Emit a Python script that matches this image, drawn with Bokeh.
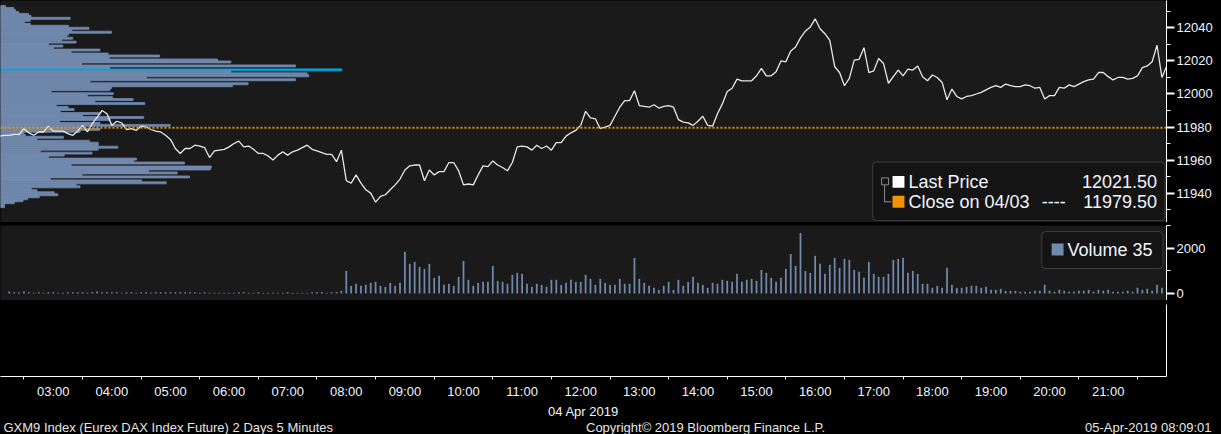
from bokeh.plotting import figure
from bokeh.layouts import column
from bokeh.models import (Range1d, SingleIntervalTicker, FixedTicker, Span,
                          BoxAnnotation, Label, GlobalInlineStyleSheet)
from bokeh.embed import file_html
from bokeh.resources import INLINE

# ---------------- data ----------------
bar_minutes = 5
price_start = "02:05"          # first 5-minute price point
volume_start = "02:15"         # first 5-minute volume bar

last_price = [
    11974.5, 11975.0, 11975.0, 11975.5, 11975.5, 11979.0, 11976.5, 11975.0, 11977.0, 11977.0,
    11980.5, 11977.5, 11977.5, 11977.5, 11976.0, 11975.0, 11977.5, 11981.0, 11977.0, 11982.0,
    11986.0, 11990.0, 11988.0, 11981.0, 11983.5, 11982.5, 11978.5, 11979.0, 11978.0, 11980.5,
    11980.0, 11978.5, 11977.5, 11977.0, 11975.0, 11972.5, 11967.0, 11964.0, 11967.0, 11967.0,
    11969.0, 11968.5, 11967.5, 11961.5, 11965.5, 11966.0, 11966.5, 11968.0, 11970.0, 11971.5,
    11968.0, 11968.5, 11966.5, 11964.0, 11964.0, 11962.5, 11960.0, 11963.0, 11965.0, 11963.0,
    11965.0, 11966.0, 11967.5, 11969.0, 11966.5, 11965.5, 11964.5, 11963.5, 11963.5, 11959.0,
    11966.0, 11947.5, 11946.0, 11951.0, 11946.0, 11942.0, 11940.0, 11934.5, 11938.0, 11939.0,
    11942.0, 11945.0, 11948.5, 11954.0, 11956.5, 11957.0, 11957.0, 11947.5, 11954.0, 11951.0,
    11953.0, 11953.0, 11958.5, 11958.5, 11953.5, 11945.0, 11945.5, 11945.0, 11951.0, 11956.5,
    11956.0, 11959.5, 11957.0, 11955.5, 11953.5, 11958.5, 11968.0, 11968.5, 11968.0, 11966.0,
    11969.0, 11967.0, 11968.5, 11966.0, 11970.5, 11970.5, 11974.5, 11976.5, 11978.0, 11981.0,
    11989.5, 11985.5, 11985.0, 11979.0, 11980.0, 11981.0, 11986.5, 11992.0, 11996.0, 11996.0,
    12002.0, 11993.0, 11992.5, 11992.0, 11993.5, 11991.5, 11992.5, 11993.0, 11992.0, 11984.5,
    11983.0, 11982.5, 11981.0, 11983.5, 11986.5, 11981.0, 11980.5, 11988.0, 11994.0, 12001.5,
    12003.5, 12009.0, 12008.0, 12008.0, 12008.0, 12011.0, 12015.5, 12011.0, 12011.0, 12013.5,
    12020.0, 12019.5, 12026.0, 12028.5, 12034.0, 12038.0, 12040.5, 12045.5, 12039.5, 12036.5,
    12032.5, 12016.5, 12013.0, 12005.0, 12009.5, 12020.5, 12021.0, 12028.0, 12013.0, 12014.0,
    12021.5, 12018.5, 12006.5, 12010.5, 12014.5, 12011.0, 12015.0, 12014.5, 12017.0, 12010.5,
    12008.0, 12011.5, 12010.0, 12007.0, 11996.5, 12003.0, 11998.5, 11997.0, 11998.5, 11999.0,
    12000.0, 12001.0, 12002.5, 12004.0, 12005.0, 12004.0, 12006.0, 12005.0, 12004.5, 12004.5,
    12005.5, 12005.0, 12003.5, 12004.0, 11997.0, 11999.0, 11999.0, 12004.0, 12003.5, 12005.5,
    12004.5, 12006.0, 12007.5, 12008.5, 12009.0, 12013.0, 12013.0, 12010.5, 12008.5, 12010.0,
    12010.0, 12009.0, 12009.5, 12011.0, 12016.0, 12017.0, 12019.5, 12029.5, 12010.0, 12017.0,
]

volume = [
    90, 60, 60, 90, 60, 30, 60, 30, 60, 60,
    30, 30, 60, 60, 60, 60, 30, 60, 90, 60,
    60, 60, 60, 30, 60, 60, 30, 60, 60, 30,
    60, 60, 60, 60, 60, 60, 60, 60, 60, 30,
    60, 30, 30, 30, 30, 30, 30, 60, 60, 30,
    30, 60, 30, 30, 30, 30, 30, 60, 30, 30,
    30, 30, 60, 60, 60, 30, 60, 60, 120,
    1006, 340, 430, 340, 385, 474, 518, 340, 296, 474,
    340, 474, 1850, 1317, 1406, 1184, 1095, 1317, 696, 784,
    385, 430, 340, 740, 1450, 607, 340, 474, 518, 518,
    1228, 562, 518, 430, 829, 918, 873, 430, 296, 430,
    385, 296, 607, 607, 385, 474, 607, 518, 518, 829,
    651, 385, 651, 474, 385, 385, 651, 430, 430, 1584,
    651, 474, 340, 252, 163, 340, 518, 163, 607, 340,
    518, 740, 474, 385, 252, 474, 430, 607, 562, 518,
    873, 518, 607,
    651, 562, 1051, 918, 696, 518, 696, 1095, 1761, 1228,
    2694, 1006, 918, 1672, 1317, 873, 1273, 1584, 1140, 1539,
    1495, 1051, 962, 696, 1406, 873, 740, 740, 873, 1495,
    1539, 1584, 918, 1006, 873, 430, 430, 252, 340, 252,
    1140, 385, 252, 252, 296, 340, 340, 252, 296, 163,
    163, 207, 118, 118, 118, 74, 74, 74, 118, 118,
    385, 118, 74, 163, 118, 74, 74, 118, 118, 163,
    74, 163, 118, 163, 74, 74, 74, 118, 74, 252,
    163, 207, 118, 385, 252,
    35,
]

profile_levels = [
    12053.0, 12051.8, 12050.6, 12049.4, 12048.2, 12047.0, 12045.8, 12044.6, 12043.4, 12042.2,
    12041.0, 12039.8, 12038.6, 12037.4, 12036.2, 12035.0, 12033.8, 12032.6, 12031.4, 12030.2,
    12029.0, 12027.8, 12026.6, 12025.4, 12024.2, 12023.0, 12021.8, 12020.6, 12019.4, 12018.2,
    12017.0, 12015.8, 12014.6, 12013.4, 12012.2, 12011.0, 12009.8, 12008.6, 12007.4, 12006.2,
    12005.0, 12003.8, 12002.6, 12001.4, 12000.2, 11999.0, 11997.8, 11996.6, 11995.4, 11994.2,
    11993.0, 11991.8, 11990.6, 11989.4, 11988.2, 11987.0, 11985.8, 11984.6, 11983.4, 11982.2,
    11981.0, 11979.8, 11978.6, 11977.4, 11976.2, 11975.0, 11973.8, 11972.6, 11971.4, 11970.2,
    11969.0, 11967.8, 11966.6, 11965.4, 11964.2, 11963.0, 11961.8, 11960.6, 11959.4, 11958.2,
    11957.0, 11955.8, 11954.6, 11953.4, 11952.2, 11951.0, 11949.8, 11948.6, 11947.4, 11946.2,
    11945.0, 11943.8, 11942.6, 11941.4, 11940.2, 11939.0, 11937.8, 11936.6, 11935.4, 11934.2,
    11933.0, 11931.8,
]
profile_volume = [
    30, 80, 90, 110, 170, 184, 420, 180, 144, 180,
    410, 534, 430, 670, 410, 400, 436, 370, 456, 290,
    376, 320, 600, 426, 650, 960, 656, 1310, 1390, 490,
    1780, 660, 2060, 1390, 1850, 1860, 880, 1780, 540, 1494,
    1400, 670, 660, 306, 680, 524, 676, 800, 570, 870,
    336, 408, 444, 360, 600, 496, 864, 660, 356, 600,
    1024, 490, 600, 480, 140, 150, 380, 220, 536, 590,
    590, 708, 590, 240, 552, 384, 290, 820, 804, 1110,
    426, 1272, 1266, 894, 1066, 492, 1140, 300, 852, 1000,
    456, 480, 186, 220, 324, 346, 234, 164, 136, 84,
    24, 24,
]
profile_bin = 1.2

prev_close = 11979.50
last_value = 12021.50
last_volume = 35
hour_ticks = [3, 4, 5, 6, 7, 8, 9, 10, 11, 12, 13, 14, 15, 16, 17, 18, 19, 20, 21]
hour_labels = ["03:00", "04:00", "05:00", "06:00", "07:00", "08:00", "09:00", "10:00",
               "11:00", "12:00", "13:00", "14:00", "15:00", "16:00", "17:00", "18:00",
               "19:00", "20:00", "21:00"]
date_label = "04 Apr 2019"
footer_left = "GXM9 Index (Eurex DAX Index Future) 2 Days 5 Minutes"
footer_mid = "Copyright\u00a9 2019 Bloomberg Finance L.P."
footer_right = "05-Apr-2019 08:09:01"

# ---------------- style ----------------
FONT = "Liberation Sans"
BG = "#1a1a1a"
BAR = "#7189ad"
POC = "#00a9e0"
ORANGE = "#f39200"
TXT = "#f2f5ff"
FW, RB = 1166, 47
PH, VH, XH, FH = 222, 75, 72, 14
SX = FW / 1172.5


def hrs(s):
    h, m = s.split(":")
    return int(h) + int(m) / 60.0


step = bar_minutes / 60.0
price_x = [hrs(price_start) + i * step for i in range(len(last_price))]
vol_x = [hrs(volume_start) + i * step for i in range(len(volume))]
xr = Range1d(2.1, 21.995)


def style_y(ax, ticker):
    ax.ticker = ticker
    ax.axis_line_color = "white"
    ax.major_tick_line_color = "white"
    ax.major_tick_line_width = 2
    ax.major_tick_out = 8
    ax.major_tick_in = 0
    ax.minor_tick_line_color = "white"
    ax.minor_tick_out = 4
    ax.minor_tick_in = 0
    ax.major_label_text_color = TXT
    ax.major_label_text_font = FONT
    ax.major_label_text_font_size = "13px"
    ax.major_label_standoff = 2


def box(l, r, b, t, fill, line=None, radius=0):
    return BoxAnnotation(left=l, right=r, bottom=b, top=t, left_units="screen",
                         right_units="screen", bottom_units="screen", top_units="screen",
                         fill_color=fill, fill_alpha=1.0, line_color=line,
                         line_alpha=1.0 if line else 0.0, border_radius=radius, level="overlay")


def label(x, y, text, size="18px", align="left", color=TXT):
    return Label(x=x, y=y, x_units="screen", y_units="screen", text=text,
                 text_font=FONT, text_font_size=size, text_color=color,
                 text_align=align, text_baseline="middle", level="overlay")


def panel(h, yr, bg, right_axis=True, rb=RB, fw=FW, **kw):
    f = figure(frame_width=fw, frame_height=h, x_range=kw.pop("x_range", xr), y_range=yr,
               output_backend="svg", toolbar_location=None,
               x_axis_location=kw.pop("x_axis_location", None),
               y_axis_location="right" if right_axis else None,
               min_border_left=0, min_border_top=0,
               min_border_bottom=kw.pop("min_border_bottom", 0), min_border_right=rb,
               background_fill_color=bg, border_fill_color=kw.pop("border", "black"),
               outline_line_color=None)
    f.grid.visible = False
    return f


# ---------------- price panel ----------------
fp = panel(PH, Range1d(11922.2, 12056.6), BG)
style_y(fp.yaxis[0], SingleIntervalTicker(interval=20, num_minor_ticks=2))
fp.extra_x_ranges = {"prof": Range1d(0, 7035)}
pmax = max(profile_volume)
prof_colors = [POC if v == pmax else BAR for v in profile_volume]
fp.hbar(y=profile_levels, height=profile_bin, left=0, right=profile_volume,
        x_range_name="prof", fill_color=prof_colors, line_color=prof_colors,
        line_width=0.8)
fp.line(price_x, last_price, line_color="#e8e8e8", line_width=1.3)
fp.add_layout(Span(location=prev_close, dimension="width", line_color=ORANGE,
                   line_dash="2 2", line_width=2))


def py(yref):  # reference pixel row (from top) -> frame screen units
    return (224 - yref) * PH / 224.0


fp.add_layout(box(877 * SX, 1171 * SX, py(222), py(163), "#141414", "#3d3d3d", 4))
fp.add_layout(box(886 * SX, 893 * SX, py(186), py(179), None, "#8c8c8c"))
fp.add_layout(box(888.5 * SX, 889.5 * SX, py(203), py(186), "#8c8c8c"))
fp.add_layout(box(888.5 * SX, 896 * SX, py(203.5), py(202.5), "#8c8c8c"))
fp.add_layout(box(897 * SX, 909 * SX, py(189), py(177), "#ffffff"))
fp.add_layout(box(897 * SX, 909 * SX, py(209), py(197), ORANGE))
fp.add_layout(label(913 * SX, py(183), "Last Price"))
fp.add_layout(label(1163 * SX, py(183), f"{last_value:.2f}", align="right"))
fp.add_layout(label(913 * SX, py(203), "Close on 04/03"))
fp.add_layout(label(1047 * SX, py(203), "----"))
fp.add_layout(label(1163 * SX, py(203), f"{prev_close:.2f}", align="right"))


# ---------------- separators ----------------
def separator(h):
    s = panel(h, Range1d(0, 1), "#4d4d4d", right_axis=False, x_range=Range1d(0, 1),
              border="#4d4d4d")
    s.add_layout(box(604 * SX, 617 * SX, 0, h, "#8a8a8a"))
    return s


s1 = separator(3)
s2 = separator(4)

# ---------------- volume panel ----------------
fv = panel(VH, Range1d(-311, 3022), BG)
style_y(fv.yaxis[0], SingleIntervalTicker(interval=2000, num_minor_ticks=2))
fv.vbar(x=vol_x, top=volume, bottom=0, width=step * 0.36, fill_color=BAR, line_color=None)


def vy(yref):
    return (302 - yref) * VH / 75.0


fv.add_layout(box(1047 * SX, 1169 * SX, vy(270), vy(233), "#141414", "#3d3d3d", 4))
fv.add_layout(box(1057 * SX, 1069 * SX, vy(257), vy(245), BAR))
fv.add_layout(label(1073 * SX, vy(251), f"Volume {last_volume}"))

# ---------------- bottom (time axis) panel ----------------
fx = panel(XH, Range1d(0, 1), "black", x_axis_location="below", min_border_bottom=36)
ya = fx.yaxis[0]
ya.ticker = FixedTicker(ticks=[])
ya.axis_line_color = "white"
ya.major_tick_line_color = None
ya.minor_tick_line_color = None
xa = fx.xaxis[0]
xa.ticker = FixedTicker(ticks=hour_ticks, minor_ticks=[h - 0.5 for h in hour_ticks] + [21.5])
xa.major_label_overrides = dict(zip(hour_ticks, hour_labels))
xa.axis_line_color = "white"
xa.major_tick_line_color = None
xa.major_tick_out = 0
xa.major_tick_in = 0
xa.minor_tick_line_color = "white"
xa.minor_tick_out = 3
xa.minor_tick_in = 0
xa.major_label_standoff = 4
xa.major_label_text_color = TXT
xa.major_label_text_font = FONT
xa.major_label_text_font_size = "13px"
xa.axis_label = date_label
xa.axis_label_text_font_style = "normal"
xa.axis_label_text_font = FONT
xa.axis_label_text_font_size = "13px"
xa.axis_label_text_color = TXT
xa.axis_label_standoff = 2

# ---------------- footer ----------------
ff = panel(FH, Range1d(0, 1), "black", right_axis=False, rb=0, fw=FW + RB,
           x_range=Range1d(0, 1))
ff.add_layout(label(3, FH / 2 + 1, footer_left, size="13px", color="#e6e6e6"))
ff.add_layout(label(709 * SX, FH / 2 + 1, footer_mid, size="13px", align="center",
                    color="#e6e6e6"))
ff.add_layout(label(FW + RB - 2, FH / 2 + 1, footer_right, size="13px", align="right",
                    color="#e6e6e6"))

p = column(fp, s1, fv, s2, fx, ff, spacing=0,
           stylesheets=[GlobalInlineStyleSheet(css="body{background:#000000;}")])

open("out.html", "w").write(file_html(p, INLINE))
